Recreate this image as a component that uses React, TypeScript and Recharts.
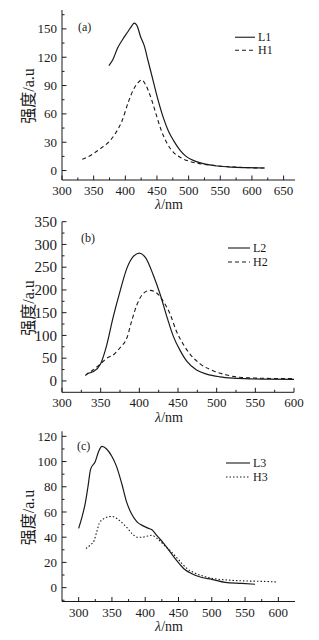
import React from 'react'
import { LineChart, Line, XAxis, YAxis, Legend } from 'recharts'

const SERIF = '"Liberation Serif", "Times New Roman", serif'
const CJK = '"Liberation Serif", "Noto Sans CJK SC", serif'
const INK = '#1a1a1a'

// (a)
const L1_NM = [374, 380, 388, 396, 404, 410, 414, 418, 424, 430, 436, 444, 452, 460, 468, 476, 486, 496, 510, 525, 545, 570, 595, 620]
const L1_I = [111, 117, 130, 139, 147, 153, 156, 154, 142, 132, 116, 95, 74, 56, 42, 32, 22, 15, 10, 7, 4.8, 3.6, 3, 2.7]
const H1_NM = [332, 345, 360, 375, 385, 395, 405, 413, 420, 426, 432, 440, 448, 456, 465, 475, 488, 500, 520, 545, 570, 595, 620]
const H1_I = [12, 16, 23, 31, 40, 53, 73, 86, 93, 96, 91, 78, 61, 44, 30, 20, 13.5, 10, 7, 5, 3.8, 3, 2.7]

// (b)
const L2_NM = [332, 340, 350, 358, 366, 375, 384, 392, 400, 408, 418, 427, 436, 444, 453, 461, 474, 487, 504, 522, 543, 565, 600]
const L2_I = [16, 20, 38, 80, 139, 197, 248, 273, 281, 271, 233, 190, 139, 98, 66, 44, 24, 15, 9, 6, 4.5, 4, 3.5]
const H2_NM = [330, 340, 350, 358, 367, 375, 384, 390, 397, 405, 414, 422, 431, 440, 448, 457, 466, 479, 496, 513, 530, 556, 600]
const H2_I = [12, 24, 38, 50, 58, 73, 95, 131, 168, 192, 199, 194, 175, 146, 109, 80, 58, 37, 22, 13, 8, 6, 5]

// (c)
const L3_NM = [300, 305, 310, 314, 318, 325, 330, 335, 342, 350, 357, 365, 372, 380, 388, 397, 405, 410, 418, 428, 438, 448, 458, 470, 485, 500, 520, 545, 565]
const L3_I = [47, 56, 67, 80, 94, 100, 108, 112, 110, 104, 96, 82, 68, 58, 52, 49, 47, 46, 41, 35, 28, 21, 15, 11, 8, 6.6, 4.2, 3.4, 2.7]
const H3_NM = [311, 318, 323, 327, 331, 336, 343, 350, 357, 364, 372, 380, 388, 396, 404, 410, 418, 428, 440, 452, 463, 475, 490, 505, 525, 550, 575, 597]
const H3_I = [31, 34, 37, 44, 51, 54, 56, 56.5, 55, 52, 48, 43, 40, 40, 41, 41.5, 39, 34, 28, 21, 15, 11.5, 8.7, 7, 6, 5.3, 5, 4.5]

const XT_A = [300, 350, 400, 450, 500, 550, 600, 650]
const YT_A = [0, 30, 60, 90, 120, 150]
const XT_B = [300, 350, 400, 450, 500, 550, 600]
const YT_B = [0, 50, 100, 150, 200, 250, 300, 350]
const XT_C = [300, 350, 400, 450, 500, 550, 600]
const YT_C = [0, 20, 40, 60, 80, 100, 120]

const pts = (nm: number[], v: number[]) => nm.map((x, i) => ({ nm: x, v: v[i] }))

// major ticks plus the half-steps between them, kept inside the domain
function withMinors(major: number[], dom: [number, number]) {
  const step = (major[1] - major[0]) / 2
  const out: number[] = []
  for (let v = major[0] - step; v <= major[major.length - 1] + step; v += step) {
    if (v > dom[0] && v < dom[1]) out.push(v)
    else if (major.includes(v)) out.push(v)
  }
  return out
}

type Series = { name: string; nm: number[]; val: number[]; dash?: string }

type Panel = {
  tag: string
  top: number
  height: number
  plotTop: number
  plotBottom: number
  plotRight: number
  xDomain: [number, number]
  yDomain: [number, number]
  xMajor: number[]
  yMajor: number[]
  yFont: number
  titleDy: number
  series: Series[]
  legend: { left: number; top: number; line: number; row: number }
  tagPos: { left: number; top: number }
}

const PLOT_LEFT = 62
const Y_W = 40
const X_H = 30

const PANELS: Panel[] = [
  {
    tag: '(a)', top: 0, height: 215, plotTop: 10, plotBottom: 180, plotRight: 295,
    xDomain: [300, 668], yDomain: [-10, 170], xMajor: XT_A, yMajor: YT_A, yFont: 13, titleDy: 29,
    series: [
      { name: 'L1', nm: L1_NM, val: L1_I },
      { name: 'H1', nm: H1_NM, val: H1_I, dash: '4 3' },
    ],
    legend: { left: 235, top: 31, line: 20, row: 12.5 },
    tagPos: { left: 78, top: 20 },
  },
  {
    tag: '(b)', top: 215, height: 210, plotTop: 6.7, plotBottom: 177.3, plotRight: 294,
    xDomain: [300, 600], yDomain: [-25, 350], xMajor: XT_B, yMajor: YT_B, yFont: 15, titleDy: 30,
    series: [
      { name: 'L2', nm: L2_NM, val: L2_I },
      { name: 'H2', nm: H2_NM, val: H2_I, dash: '4 3' },
    ],
    legend: { left: 228, top: 26, line: 22, row: 14 },
    tagPos: { left: 81, top: 16 },
  },
  {
    tag: '(c)', top: 420, height: 220, plotTop: 11.3, plotBottom: 181.5, plotRight: 295,
    xDomain: [275, 625], yDomain: [-11, 124], xMajor: XT_C, yMajor: YT_C, yFont: 13, titleDy: 29,
    series: [
      { name: 'L3', nm: L3_NM, val: L3_I },
      { name: 'H3', nm: H3_NM, val: H3_I, dash: '1.5 2' },
    ],
    legend: { left: 226, top: 36, line: 24, row: 14 },
    tagPos: { left: 77, top: 19 },
  },
]

function XTick(props: any) {
  const { x, y, payload, major } = props
  const isMajor = major.includes(payload.value)
  return (
    <g>
      <line x1={x} x2={x} y1={y} y2={y - (isMajor ? 4.5 : 2.5)} stroke={INK} strokeWidth={1} />
      {isMajor && (
        <text x={x} y={y + 15} textAnchor="middle" fontSize={13} fontFamily={SERIF} fill={INK}>
          {payload.value}
        </text>
      )}
    </g>
  )
}

function YTick(props: any) {
  const { x, y, payload, major, font } = props
  const isMajor = major.includes(payload.value)
  return (
    <g>
      <line x1={x} x2={x + (isMajor ? 4.5 : 2.5)} y1={y} y2={y} stroke={INK} strokeWidth={1} />
      {isMajor && (
        <text x={x - 5} y={y} dy="0.35em" textAnchor="end" fontSize={font} fontFamily={SERIF} fill={INK}>
          {payload.value}
        </text>
      )}
    </g>
  )
}

// Recharts clones label elements with its own x/y, so positions go in other props
function XTitle({ baseY }: { baseY: number }) {
  return (
    <text x={169} y={baseY} textAnchor="middle" fontSize={14} fontFamily={SERIF} fill={INK}>
      <tspan fontStyle="italic">λ</tspan>/nm
    </text>
  )
}

function YTitle({ midY }: { midY: number }) {
  return (
    <text x={28} y={midY} dy="0.35em" textAnchor="middle" fontSize={16} fontFamily={CJK} fill={INK}
      transform={`rotate(-90, 28, ${midY})`}>
      强度/a.u
    </text>
  )
}

function LegendBox({ series, line, row }: any) {
  return (
    <div style={{ fontFamily: SERIF, fontSize: 12, color: INK }}>
      {series.map((s: Series) => (
        <div key={s.name} style={{ display: 'flex', alignItems: 'center', height: row }}>
          <svg width={line} height={row}>
            <line x1={0} x2={line} y1={row / 2} y2={row / 2} stroke={INK} strokeWidth={1.1}
              strokeDasharray={s.dash} />
          </svg>
          <span style={{ marginLeft: 3, lineHeight: `${row}px` }}>{s.name}</span>
        </div>
      ))}
    </div>
  )
}

function PanelChart({ p }: { p: Panel }) {
  const margin = {
    top: p.plotTop,
    right: 319 - p.plotRight,
    left: PLOT_LEFT - Y_W,
    bottom: p.height - p.plotBottom - X_H,
  }
  const xTicks = withMinors(p.xMajor, p.xDomain)
  const yTicks = withMinors(p.yMajor, p.yDomain)
  return (
    <div style={{ position: 'absolute', left: 0, top: p.top, width: 319, height: p.height }}>
      <LineChart width={319} height={p.height} margin={margin}>
        <XAxis dataKey="nm" type="number" domain={p.xDomain} ticks={xTicks} interval={0}
          allowDataOverflow height={X_H} tickSize={0} tickMargin={0} tickLine={false}
          axisLine={{ stroke: INK }}
          tick={(t: any) => <XTick {...t} major={p.xMajor} />}
          label={<XTitle baseY={p.plotBottom + p.titleDy} />} />
        <XAxis xAxisId="top" orientation="top" type="number" domain={p.xDomain} height={0}
          tick={false} tickLine={false} axisLine={{ stroke: INK }} />
        <YAxis type="number" domain={p.yDomain} ticks={yTicks} interval={0} allowDataOverflow
          width={Y_W} tickSize={0} tickMargin={0} tickLine={false} axisLine={{ stroke: INK }}
          tick={(t: any) => <YTick {...t} major={p.yMajor} font={p.yFont} />}
          label={<YTitle midY={(p.plotTop + p.plotBottom) / 2 + 1} />} />
        <YAxis yAxisId="right" orientation="right" type="number" domain={p.yDomain} width={0}
          tick={false} tickLine={false} axisLine={{ stroke: INK }} />
        <Legend layout="vertical" align="center" verticalAlign="middle"
          wrapperStyle={{ left: p.legend.left, top: p.legend.top, width: 'auto' }}
          content={() => <LegendBox series={p.series} line={p.legend.line} row={p.legend.row} />} />
        {p.series.map((s) => (
          <Line key={s.name} name={s.name} data={pts(s.nm, s.val)} dataKey="v" type="monotone"
            stroke={INK} strokeWidth={s.dash ? 1.1 : 1.2} strokeDasharray={s.dash} dot={false}
            isAnimationActive={false} />
        ))}
      </LineChart>
      <div style={{ position: 'absolute', left: p.tagPos.left, top: p.tagPos.top, fontFamily: SERIF,
        fontSize: 12, color: INK, lineHeight: '14px' }}>
        {p.tag}
      </div>
    </div>
  )
}

export default function App() {
  return (
    <div style={{ position: 'absolute', left: 0, top: 0, width: 319, height: 640, background: '#fff' }}>
      {PANELS.map((p) => (
        <PanelChart key={p.tag} p={p} />
      ))}
    </div>
  )
}
